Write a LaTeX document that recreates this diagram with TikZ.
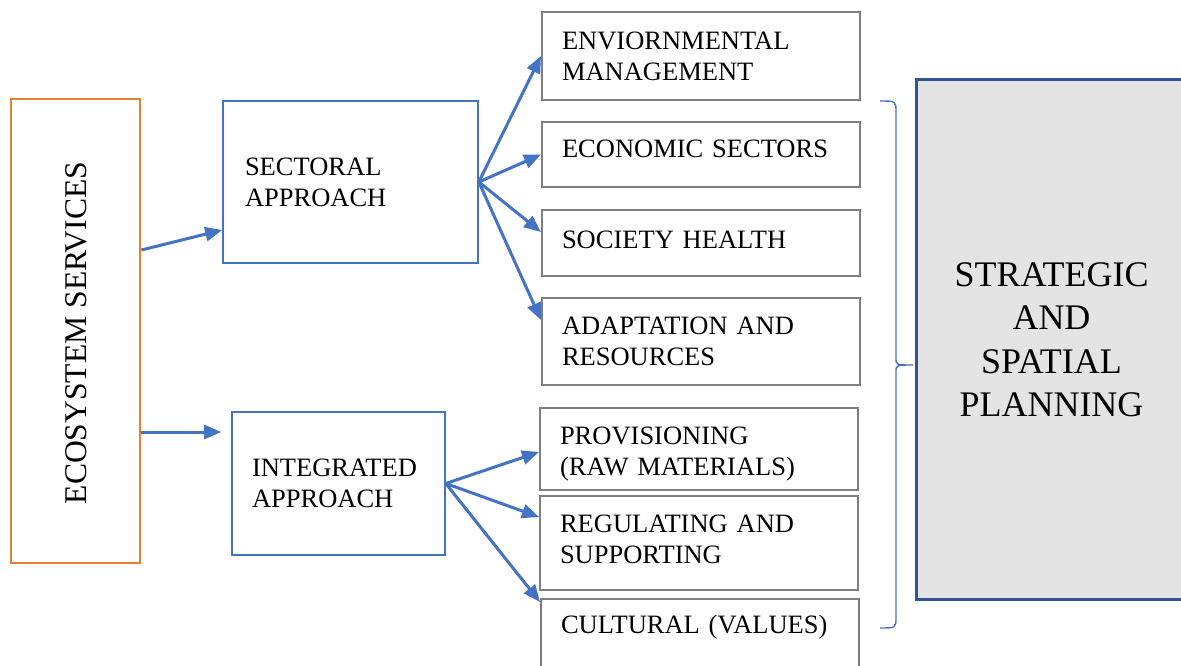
\documentclass[tikz,border=0pt]{standalone}
\usepackage{fontspec}
\setmainfont{Liberation Serif}
\usetikzlibrary{arrows.meta}
\definecolor{ablue}{HTML}{4472C4}
\definecolor{aorange}{HTML}{ED7D31}
\definecolor{agray}{HTML}{7F7F7F}
\definecolor{dblue}{HTML}{2F5597}
\definecolor{lgray}{HTML}{E4E4E4}
\tikzset{
  boxtext/.style={font=\fontsize{26.5}{31}\selectfont},
  gbox/.style={draw=agray, line width=2pt, rectangle, boxtext, align=left,
    minimum width=318pt, text width=278pt, inner xsep=20pt, inner ysep=4pt},
  bbox/.style={draw=ablue, line width=1.6pt, rectangle, boxtext, align=left},
  arr/.style={draw=ablue, line width=3pt, -{Triangle[length=17pt,width=14pt]}},
}
\begin{document}
\begin{tikzpicture}[x=1pt,y=-1pt]
\useasboundingbox (0,0) rectangle (1181,665);
% left box
\node[draw=aorange, line width=2.8pt, minimum width=129pt, minimum height=464pt, inner sep=0pt] (ecos) at (75.5,331) {};
\node[rotate=90, font=\fontsize{31.6}{36}\selectfont] (ecostxt) at (76,333) {ECOSYSTEM SERVICES};
% approach boxes
\node[bbox, minimum width=255pt, minimum height=162pt, text width=211pt, inner xsep=22pt] (sect) at (350.5,182) {SECTORAL\\APPROACH};
\node[bbox, minimum width=213pt, minimum height=143pt, text width=173pt, inner xsep=20pt] (integ) at (338.5,483.5) {INTEGRATED\\APPROACH};
% right boxes
\node[gbox, minimum height=88pt] (env) at (701,56) {ENVIORNMENTAL\\MANAGEMENT};
\node[gbox, minimum height=65pt, text height=18pt, text depth=12pt] (eco) at (701,154.5) {ECONOMIC SECTORS};
\node[gbox, minimum height=66pt, text height=18pt, text depth=8pt] (soc) at (701,243) {SOCIETY HEALTH};
\node[gbox, minimum height=87pt] (ada) at (701,341.5) {ADAPTATION AND\\RESOURCES};
\node[gbox, minimum height=82pt, text height=28pt] (pro) at (699,449) {PROVISIONING\\(RAW MATERIALS)};
\node[gbox, minimum height=94pt, text depth=39pt] (reg) at (699,543) {REGULATING AND\\SUPPORTING};
\node[gbox, anchor=north west, text height=30pt, text depth=64pt] (cul) at (540,598) {CULTURAL (VALUES)};
% strategic box
\node[draw=dblue, fill=lgray, line width=3pt, anchor=north west, minimum width=270pt, minimum height=520pt,
  align=center, font=\fontsize{36}{43.5}\selectfont] (strat) at (915,78) {STRATEGIC\\AND\\SPATIAL\\PLANNING};
% arrows
\draw[arr] ([yshift=81pt]ecos.east) -- ([yshift=-48pt]sect.west);
\draw[arr, shorten >=10pt] ([yshift=-101pt]ecos.east) -- ([yshift=51.5pt]integ.west);
\draw[arr] (sect.east) -- (env.west);
\draw[arr] (sect.east) -- (eco.west);
\draw[arr] (sect.east) -- ([yshift=11pt]soc.west);
\draw[arr] (sect.east) -- ([yshift=21.5pt]ada.west);
\draw[arr] (integ.east) -- ([yshift=-3pt]pro.west);
\draw[arr] (integ.east) -- ([yshift=26pt]reg.west);
\draw[arr] (integ.east) -- ([yshift=-4pt]cul.north west);
% brace
\coordinate (btop) at (880,101);
\coordinate (bbot) at (880,628);
\coordinate (btip) at (913,365);
\draw[ablue, line width=1.4pt] (btop) .. controls (896,101) .. (896,112) -- (896,358) .. controls (896,365) .. (btip)
  .. controls (896,365) .. (896,372) -- (896,617) .. controls (896,628) .. (bbot);
\end{tikzpicture}
\end{document}
